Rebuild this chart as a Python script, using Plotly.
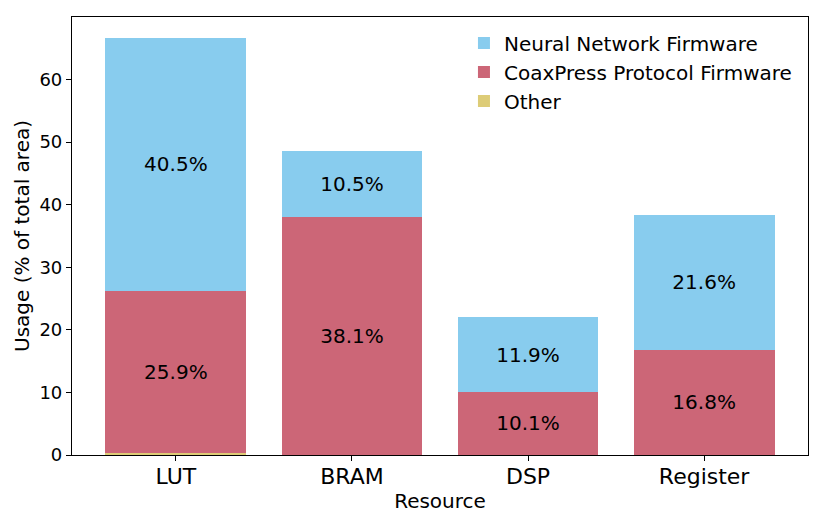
import plotly.graph_objects as go

resources = ["LUT", "BRAM", "DSP", "Register"]
other = [0.3, 0.0, 0.0, 0.0]
coaxpress = [25.9, 38.1, 10.1, 16.8]
neural_net = [40.5, 10.5, 11.9, 21.6]
y_ticks = [0, 10, 20, 30, 40, 50, 60]

FONT = "DejaVu Sans"

fig = go.Figure()
fig.add_trace(go.Bar(x=resources, y=other, name="Other", marker=dict(color="#DDCC77", line=dict(width=0)),
                     hoverinfo="skip"))
fig.add_trace(go.Bar(x=resources, y=coaxpress, name="CoaxPress Protocol Firmware",
                     marker=dict(color="#CC6677", line=dict(width=0)),
                     text=[f"{v:.1f}%" for v in coaxpress], textposition="inside",
                     insidetextanchor="middle", textangle=0,
                     textfont=dict(color="black", size=20, family=FONT)))
fig.add_trace(go.Bar(x=resources, y=neural_net, name="Neural Network Firmware",
                     marker=dict(color="#88CCEE", line=dict(width=0)),
                     text=[f"{v:.1f}%" for v in neural_net], textposition="inside",
                     insidetextanchor="middle", textangle=0,
                     textfont=dict(color="black", size=20, family=FONT)))

fig.update_layout(
    barmode="stack",
    bargap=0.2,
    width=822, height=527,
    margin=dict(l=64, r=22, t=9, b=80),
    paper_bgcolor="white", plot_bgcolor="white",
    font=dict(family=FONT, color="black"),
    legend=dict(x=0.985, y=0.985, xanchor="right", yanchor="top", traceorder="reversed",
                font=dict(size=20, family=FONT), bgcolor="rgba(255,255,255,0)",
                itemsizing="constant", tracegroupgap=0),
    xaxis=dict(range=[-0.59, 3.59], showline=True, linecolor="black", linewidth=1.2, mirror=True,
               ticks="outside", ticklen=5, tickcolor="black", tickfont=dict(size=22),
               ticklabelstandoff=-4,
               title=dict(text="Resource", font=dict(size=20), standoff=6), showgrid=False),
    yaxis=dict(range=[0, 70], showline=True, linecolor="black", linewidth=1.2, mirror=True,
               ticks="outside", ticklen=5, tickcolor="black", tickvals=y_ticks, tickfont=dict(size=18),
               title=dict(text="Usage (% of total area)", font=dict(size=20), standoff=4),
               showgrid=False, zeroline=False),
)

fig.write_html("out.html")
